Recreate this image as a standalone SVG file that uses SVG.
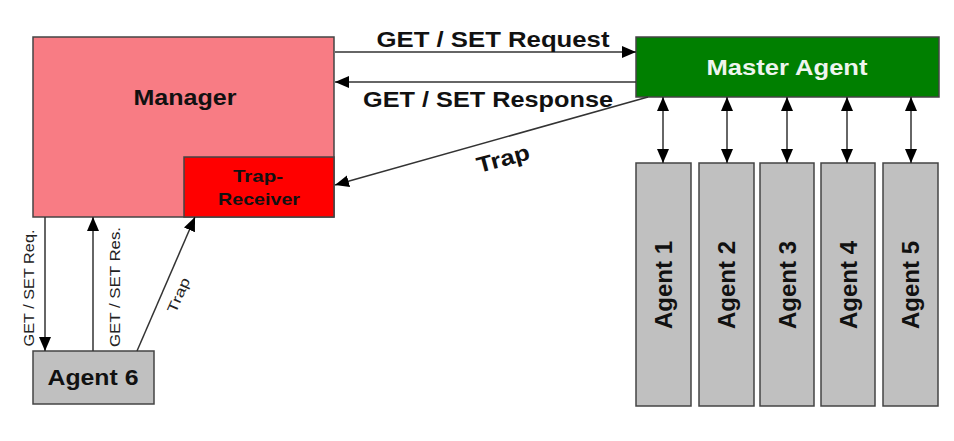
<svg xmlns="http://www.w3.org/2000/svg" width="954" height="441" viewBox="0 0 954 441">
<style>
.box{stroke:#444;stroke-width:1.5}
.t{font-family:"Liberation Sans",Arial,sans-serif;font-weight:bold;fill:#111;text-anchor:middle}
.s{font-family:"Liberation Sans",Arial,sans-serif;fill:#222;text-anchor:middle}
.c{stroke:#333;stroke-width:1.5;fill:none}
</style>
<defs>
<marker id="ah" markerUnits="userSpaceOnUse" markerWidth="15" markerHeight="13" refX="14" refY="6" orient="auto-start-reverse" viewBox="0 0 15 13">
<path d="M0,0 L14,6 L0,12 z" fill="#000"/>
</marker>
</defs>
<rect width="954" height="441" fill="#fff"/>
<g id="manager">
<rect class="box" x="33" y="37" width="301" height="180" fill="#f87c84"/>
<text class="t" x="185" y="105" font-size="22" textLength="103" lengthAdjust="spacingAndGlyphs">Manager</text>
</g>
<g id="trap-receiver">
<rect class="box" x="184" y="157" width="150" height="60" fill="#ff0000"/>
<text class="t" x="258" y="182" font-size="17" textLength="50" lengthAdjust="spacingAndGlyphs">Trap-</text>
<text class="t" x="259" y="205" font-size="17" textLength="82" lengthAdjust="spacingAndGlyphs">Receiver</text>
</g>
<g id="master-agent">
<rect class="box" x="636" y="37" width="303" height="60" fill="#007f00"/>
<text class="t" x="787" y="75" font-size="22" textLength="161" lengthAdjust="spacingAndGlyphs" style="fill:#eef5ee">Master Agent</text>
</g>
<g id="agent1">
<rect class="box" x="636" y="163" width="55" height="243" fill="#c0c0c0"/>
<text class="t" font-size="24" transform="translate(672,285) rotate(-90)">Agent 1</text>
</g>
<g id="agent2">
<rect class="box" x="699" y="163" width="55" height="243" fill="#c0c0c0"/>
<text class="t" font-size="24" transform="translate(735,285) rotate(-90)">Agent 2</text>
</g>
<g id="agent3">
<rect class="box" x="760" y="163" width="54" height="243" fill="#c0c0c0"/>
<text class="t" font-size="24" transform="translate(796,285) rotate(-90)">Agent 3</text>
</g>
<g id="agent4">
<rect class="box" x="821" y="163" width="54" height="243" fill="#c0c0c0"/>
<text class="t" font-size="24" transform="translate(857,285) rotate(-90)">Agent 4</text>
</g>
<g id="agent5">
<rect class="box" x="883" y="163" width="55" height="243" fill="#c0c0c0"/>
<text class="t" font-size="24" transform="translate(919,285) rotate(-90)">Agent 5</text>
</g>
<g id="agent6">
<rect class="box" x="33" y="351" width="121" height="53" fill="#c0c0c0"/>
<text class="t" x="93" y="385" font-size="22" textLength="91" lengthAdjust="spacingAndGlyphs">Agent 6</text>
</g>
<g id="connectors">
<path class="c" d="M335,52 L636,52" marker-end="url(#ah)"/>
<path class="c" d="M636,82 L335,82" marker-end="url(#ah)"/>
<path class="c" d="M648,97 L335,185" marker-end="url(#ah)"/>
<path class="c" d="M663,97 L663,163" marker-start="url(#ah)" marker-end="url(#ah)"/>
<path class="c" d="M727,97 L727,163" marker-start="url(#ah)" marker-end="url(#ah)"/>
<path class="c" d="M787,97 L787,163" marker-start="url(#ah)" marker-end="url(#ah)"/>
<path class="c" d="M847,97 L847,163" marker-start="url(#ah)" marker-end="url(#ah)"/>
<path class="c" d="M911,97 L911,163" marker-start="url(#ah)" marker-end="url(#ah)"/>
<path class="c" d="M45,217 L45,351" marker-end="url(#ah)"/>
<path class="c" d="M93,351 L93,217" marker-end="url(#ah)"/>
<path class="c" d="M137,351 L195,217" marker-end="url(#ah)"/>
<text class="t" x="493" y="47" font-size="22" textLength="233" lengthAdjust="spacingAndGlyphs">GET / SET Request</text>
<text class="t" x="488" y="107" font-size="22" textLength="250" lengthAdjust="spacingAndGlyphs">GET / SET Response</text>
<text class="t" font-size="22" textLength="54" lengthAdjust="spacingAndGlyphs" transform="translate(505,166) rotate(-15)">Trap</text>
<text class="s" font-size="15" textLength="117" lengthAdjust="spacingAndGlyphs" transform="translate(34,288) rotate(-90)">GET / SET Req.</text>
<text class="s" font-size="15" textLength="120" lengthAdjust="spacingAndGlyphs" transform="translate(120,287) rotate(-90)">GET / SET Res.</text>
<text class="s" font-size="14" textLength="37" lengthAdjust="spacingAndGlyphs" transform="translate(183,297) rotate(-66)">Trap</text>
</g>
</svg>
